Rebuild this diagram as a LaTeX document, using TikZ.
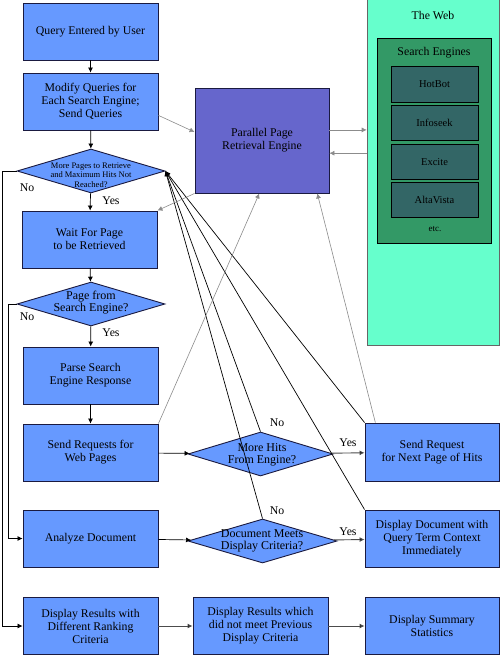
\documentclass[tikz,border=0pt]{standalone}
\usepackage{fontspec}
\setmainfont{Liberation Serif}
\usetikzlibrary{shapes.geometric,arrows.meta,calc}
\definecolor{boxblue}{HTML}{6699FF}
\definecolor{pepurple}{HTML}{6666CC}
\definecolor{webgreen}{HTML}{66FFCC}
\definecolor{segreen}{HTML}{339966}
\definecolor{engteal}{HTML}{336666}
\definecolor{edgecol}{HTML}{1A1A40}
\definecolor{grayline}{HTML}{8C8C8C}
\begin{document}
\begin{tikzpicture}[x=1pt,y=-1pt,
  box/.style={draw=edgecol, fill=boxblue, line width=0.9pt, minimum width=135pt, minimum height=57pt, inner sep=0pt, align=center, font=\fontsize{11.8}{13}\selectfont},
  dia/.style={draw=edgecol, fill=boxblue, line width=0.9pt, diamond, minimum width=148pt, minimum height=44pt, inner sep=0pt},
  diatext/.style={align=center, inner sep=0pt, font=\fontsize{12}{12.5}\selectfont},
  eng/.style={draw=black, fill=engteal, line width=0.9pt, minimum width=87pt, minimum height=35.5pt, inner sep=0pt, font=\fontsize{10.5}{12}\selectfont},
  lbl/.style={inner sep=0pt, font=\fontsize{11.8}{13}\selectfont},
  flow/.style={draw=black, line width=0.7pt, -{Latex[length=5pt,width=5pt]}},
  flowd/.style={draw=black!70, line width=0.9pt, -{Latex[length=5pt,width=5pt,fill=black]}},
  back/.style={draw=black, line width=0.7pt, -{Latex[length=5pt,width=5pt]}},
  gflow/.style={draw=grayline, line width=0.6pt, -{Latex[length=5pt,width=5pt]}}
]
\useasboundingbox (0,0) rectangle (500,655);
\fill[white] (0,0) rectangle (500,655);

% The Web
\node[draw=black!60, fill=webgreen, line width=0.6pt, minimum width=132.5pt, minimum height=346pt, inner sep=0pt] (web) at (433.25,172) {};
\node[lbl] (webt) at (433,15) {The Web};
\node[draw=black, fill=segreen, line width=0.9pt, minimum width=114pt, minimum height=205pt, inner sep=0pt] (se) at (434,140.5) {};
\node[lbl] (set) at (434,53) {Search Engines};
\node[eng] (hb) at (434.5,84.5) {HotBot};
\node[eng] (is) at (434.5,123) {Infoseek};
\node[eng] (ex) at (434.5,162) {Excite};
\node[eng] (av) at (434.5,200) {AltaVista};
\node[inner sep=0pt, font=\fontsize{9}{10}\selectfont] (etc) at (435,229) {etc.};

% Parallel engine
\node[box, fill=pepurple, minimum width=134pt, minimum height=105pt] (pe) at (262,140.5) {Parallel Page\\Retrieval Engine};

% Left column
\node[box] (q) at (90.5,31.5) {Query Entered by User};
\node[box] (m) at (90.5,101.5) {Modify Queries for\\Each Search Engine;\\Send Queries};
\node[dia] (d1) at (91,171) {};
\node[diatext, font=\fontsize{8.5}{9.5}\selectfont] (d1t) at (91,175) {More Pages to Retrieve\\and Maximum Hits Not\\Reached?};
\node[box] (w) at (89.5,239.5) {Wait For Page\\to be Retrieved};
\node[dia] (d2) at (91,304) {};
\node[diatext] (d2t) at (91,302.5) {Page from\\Search Engine?};
\node[box] (p) at (90.5,375.5) {Parse Search\\Engine Response};
\node[box] (s) at (90.5,452.5) {Send Requests for\\Web Pages};
\node[box] (a) at (90.5,538.5) {Analyze Document};
\node[box] (r1) at (90.5,626) {Display Results with\\Different Ranking\\Criteria};

% Middle and right
\node[dia, minimum width=145pt] (mh) at (260.5,454) {};
\node[diatext] (mht) at (262,455) {More Hits\\From Engine?};
\node[dia, minimum width=149pt] (dm) at (262.5,541) {};
\node[diatext] (dmt) at (262,541) {Document Meets\\Display Criteria?};
\node[box, minimum width=134pt, minimum height=58pt] (nx) at (432,452) {Send Request\\for Next Page of Hits};
\node[box, minimum width=134pt] (dd) at (432,538.5) {Display Document with\\Query Term Context\\Immediately};
\node[box] (r2) at (260.5,626) {Display Results which\\did not meet Previous\\Display Criteria};
\node[box, minimum width=134pt] (r3) at (432,626) {Display Summary\\Statistics};

% Main flow
\draw[flow] (q) -- (m);
\draw[flow] (m) -- (d1);
\draw[flow] (d1) -- (w);
\draw[flow] (w) -- (d2);
\draw[flow] (d2) -- (p);
\draw[flow] (p) -- (s);
\draw[flow] (s) -- (mh);
\draw[flow] (a) -- (dm);
\draw[flowd] (mh) -- (nx);
\draw[flowd] (dm) -- (dd);
\draw[flowd] (r1) -- (r2);
\draw[flowd] (r2) -- (r3);

% No loops
\draw[flow] (d1.west) -- (2,171) |- (r1.west);
\draw[flow] (d2.west) -- (8,304) |- (a.west);

% Back to decision 1
\draw[back] (nx.north west) -- (d1.east);
\draw[back] (dd.north west) -- (d1.east);
\draw[back] (mh.north) -- (d1.east);
\draw[back] (dm.north) -- (d1.east);

% Gray links with the retrieval engine
\coordinate (t1) at ($(pe.north east)!0.4!(pe.south east)$);
\coordinate (t2) at ($(pe.north east)!0.62!(pe.south east)$);
\draw[gflow] ($(m.north east)!0.74!(m.south east)$) -- ($(pe.north west)!0.42!(pe.south west)$);
\draw[gflow] (pe.south west) -- (w.north east);
\draw[gflow] (t1) -- (t1 -| web.west);
\draw[gflow] (t2 -| web.west) -- (t2);
\draw[gflow] (s.north east) -- ($(pe.south west)!0.48!(pe.south east)$);
\draw[gflow] ($(nx.north west)!0.08!(nx.north east)$) -- ($(pe.south west)!0.91!(pe.south east)$);

% Labels
\node[lbl] (n1) at (27,188) {No};
\node[lbl] (y1) at (111,201) {Yes};
\node[lbl] (n2) at (27,317) {No};
\node[lbl] (y2) at (111,333) {Yes};
\node[lbl] (n3) at (277,423) {No};
\node[lbl] (y3) at (348,443) {Yes};
\node[lbl] (n4) at (277,511) {No};
\node[lbl] (y4) at (348,532) {Yes};
\end{tikzpicture}
\end{document}
